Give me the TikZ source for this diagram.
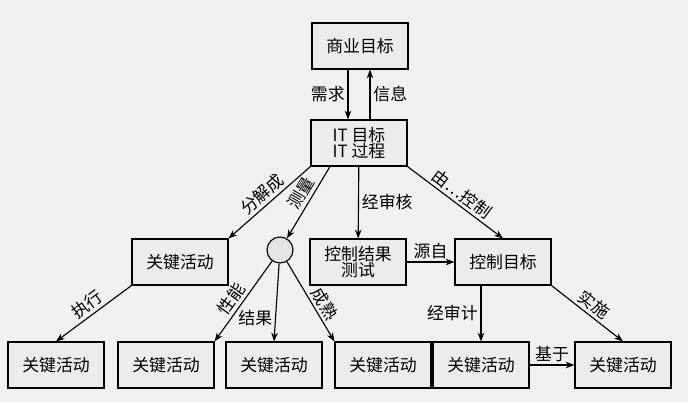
\documentclass[tikz,border=0pt]{standalone}
\usepackage{fontspec}
\setmainfont{Noto Sans CJK SC}
\usetikzlibrary{arrows.meta}
\tikzset{
  box/.style={draw,thick,fill=white!85!gray,minimum width=2.4cm,minimum height=1.15cm,align=center,font=\large},
  link/.style={thick,-{Stealth[length=2.2mm]}},
  lbl/.style={font=\large,inner sep=2pt}
}
\begin{document}
\begin{tikzpicture}[x=0.025cm,y=-0.025cm]
\fill[white!88!gray] (0,0) rectangle (688,402);
\useasboundingbox (0,0) rectangle (688,402);
\node[box] (biz) at (360,46) {商业目标};
\node[box] (it) at (359,143) {IT 目标\\[-3pt]IT 过程};
\node[box] (ka) at (180,262) {关键活动};
\node[draw,thick,circle,fill=white!80!gray,minimum size=0.65cm] (m) at (280,250) {};
\node[box] (test) at (358,262) {控制结果\\[-3pt]测试};
\node[box] (obj) at (503,262) {控制目标};
\node[box] (b1) at (56,365) {关键活动};
\node[box] (b2) at (166,365) {关键活动};
\node[box] (b3) at (274,365) {关键活动};
\node[box] (b4) at (383,365) {关键活动};
\node[box] (b5) at (481,365) {关键活动};
\node[box] (b6) at (623,365) {关键活动};
\draw[link] (biz.south -| 348,0) -- node[lbl,left] {需求} (it.north -| 348,0);
\draw[link] (it.north -| 370,0) -- node[lbl,right] {信息} (biz.south -| 370,0);
\draw[link] (it.south west) -- node[lbl,sloped,above] {分解成} (ka.north east);
\draw[link] (it.south -| 330,0) -- node[lbl,sloped,above,pos=0.45] {测量} (m);
\draw[link] (it) -- node[lbl,right,pos=0.5] {经审核} (test);
\draw[link] (it.south east) -- node[lbl,sloped,above] {由…控制} (obj.north);
\draw[link] (ka.south west) -- node[lbl,sloped,above] {执行} (b1.north);
\draw[link] (m) -- node[lbl,sloped,above,pos=0.55] {性能} (b2.north east);
\draw[link] (m) -- node[lbl,left,pos=0.7] {结果} (b3.north);
\draw[link] (m) -- node[lbl,sloped,above,pos=0.6] {成熟} (b4.north west);
\draw[link] (test) -- node[lbl,above] {源自} (obj);
\draw[link] (obj.south -| 481,0) -- node[lbl,left] {经审计} (b5.north);
\draw[link] (obj.south east) -- node[lbl,sloped,above] {实施} (b6.north);
\draw[link] (b5) -- node[lbl,above] {基于} (b6);
\end{tikzpicture}
\end{document}
